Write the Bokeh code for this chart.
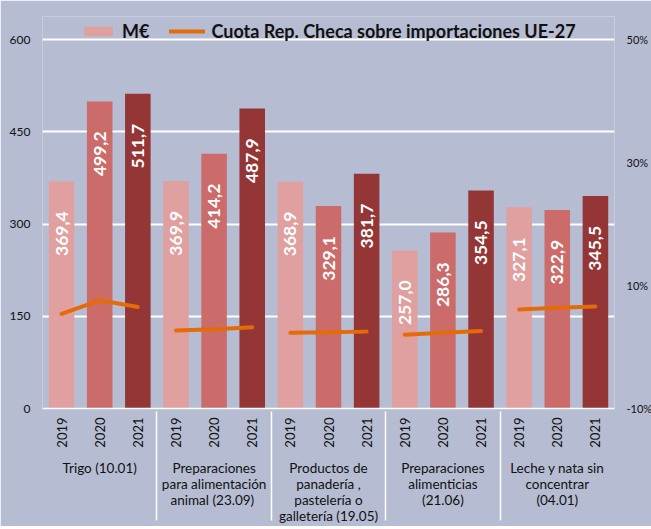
import math
from bokeh.plotting import figure
from bokeh.models import (FactorRange, Range1d, LinearAxis, FixedTicker, PrintfTickFormatter,
                          ColumnDataSource, Legend, LegendItem)
from bokeh.core.properties import value
from bokeh.embed import file_html
from bokeh.resources import INLINE

# ---------------- data ----------------
groups = [
    "Trigo (10.01)",
    "Preparaciones\npara alimentación\nanimal  (23.09)",
    "Productos de\npanadería ,\npastelería o\ngalletería (19.05)",
    "Preparaciones\nalimenticias\n(21.06)",
    "Leche y nata sin\nconcentrar\n(04.01)",
]
years = ["2019", "2020", "2021"]
meur_2019 = [369.4, 369.9, 368.9, 257.0, 327.1]
meur_2020 = [499.2, 414.2, 329.1, 286.3, 322.9]
meur_2021 = [511.7, 487.9, 381.7, 354.5, 345.5]
share_2019 = [5.4, 2.7, 2.3, 2.0, 6.1]
share_2020 = [7.6, 2.9, 2.4, 2.3, 6.4]
share_2021 = [6.5, 3.2, 2.5, 2.6, 6.6]
left_ticks = [0, 150, 300, 450, 600]
right_ticks = [-10, 10, 30, 50]
legend_bar = "M€"
legend_line = "Cuota Rep. Checa sobre importaciones UE-27"

# ---------------- style / layout ----------------
BG = "#b6bcd2"
COLORS = {"2019": "#e0a09f", "2020": "#cb6b6a", "2021": "#943636"}
LINE_COLOR = "#e36c09"
FONT = "Lato"
TXT = "#111111"

AXIS_PX = 369          # pixels between 0 and 600 on the left axis
FRAME_H = 392          # frame extends above 600 to hold the legend
top_left = 600 * FRAME_H / AXIS_PX
top_right = -10 + 60 * FRAME_H / AXIS_PX

factors = [(g, y) for g in groups for y in years]
x_range = FactorRange(*factors, range_padding=0, group_padding=0, factor_padding=0)

p = figure(x_range=x_range, y_range=Range1d(0, top_left),
           frame_width=572, frame_height=FRAME_H,
           output_backend="svg", toolbar_location=None,
           background_fill_color=BG, border_fill_color=BG,
           min_border_left=42, min_border_right=37, min_border_top=16, min_border_bottom=112)
p.outline_line_color = None
p.extra_y_ranges = {"pct": Range1d(-10, top_right)}

series = {"2019": meur_2019, "2020": meur_2020, "2021": meur_2021}
bar_renderers = {}
for yr, vals in series.items():
    src = ColumnDataSource(dict(
        x=[(g, yr) for g in groups],
        top=vals,
        lab=[f"{v:.1f}".replace(".", ",") for v in vals],
        ly=[v - 85 for v in vals],
    ))
    r = p.vbar(x="x", top="top", width=0.67, source=src, fill_color=COLORS[yr], line_color=None)
    bar_renderers[yr] = r
    p.text(x="x", y="ly", text="lab", source=src, angle=math.pi / 2,
           text_align="center", text_baseline="middle", text_color="white",
           text_font=value(FONT), text_font_style="bold", text_font_size="17.5px")

shares = list(zip(share_2019, share_2020, share_2021))
line_renderers = []
for g, sh in zip(groups, shares):
    lr = p.line(x=[(g, y) for y in years], y=list(sh), y_range_name="pct",
                line_color=LINE_COLOR, line_width=4, line_cap="round")
    line_renderers.append(lr)

# axes
ya = p.yaxis[0]
ya.ticker = FixedTicker(ticks=left_ticks)
ya.axis_line_color = None
ya.major_tick_line_color = None
ya.minor_tick_line_color = None
ya.major_tick_out = 0
ya.major_label_text_font = FONT
ya.major_label_text_font_size = "12px"
ya.major_label_text_color = TXT
ya.major_label_standoff = 12

ra = LinearAxis(y_range_name="pct", ticker=FixedTicker(ticks=right_ticks),
                formatter=PrintfTickFormatter(format="%d%%"))
ra.axis_line_color = None
ra.major_tick_line_color = None
ra.minor_tick_line_color = None
ra.major_tick_out = 0
ra.major_label_text_font = FONT
ra.major_label_text_font_size = "11px"
ra.major_label_text_color = TXT
ra.major_label_standoff = 12
p.add_layout(ra, "right")

xa = p.xaxis[0]
xa.axis_line_color = "white"
xa.axis_line_width = 1.5
xa.major_tick_line_color = None
xa.minor_tick_line_color = None
xa.major_tick_out = 0
xa.major_tick_in = 0
xa.major_label_orientation = math.pi / 2
xa.major_label_text_font = FONT
xa.major_label_text_font_size = "13px"
xa.major_label_text_color = TXT
xa.major_label_standoff = 9
xa.group_text_font = FONT
xa.group_text_font_size = "13.5px"
xa.group_text_font_style = "normal"
xa.group_text_color = TXT
xa.group_label_orientation = "horizontal"
xa.group_text_line_height = 1.0
xa.separator_line_color = "white"
xa.separator_line_width = 1.5

p.xgrid.grid_line_color = None
p.ygrid.grid_line_color = "white"
p.ygrid.grid_line_width = 2

legend = Legend(items=[LegendItem(label=legend_bar, renderers=[bar_renderers["2019"]]),
                       LegendItem(label=legend_line, renderers=[line_renderers[0]])],
                orientation="horizontal", location=(38, FRAME_H - 26),
                background_fill_alpha=0, border_line_color=None,
                padding=0, margin=0, spacing=20, label_standoff=6,
                glyph_width=36, glyph_height=12,
                label_text_font=FONT, label_text_font_style="bold",
                label_text_font_size="18px", label_text_color=TXT)
p.add_layout(legend)

open("out.html", "w").write(file_html(p, INLINE))
